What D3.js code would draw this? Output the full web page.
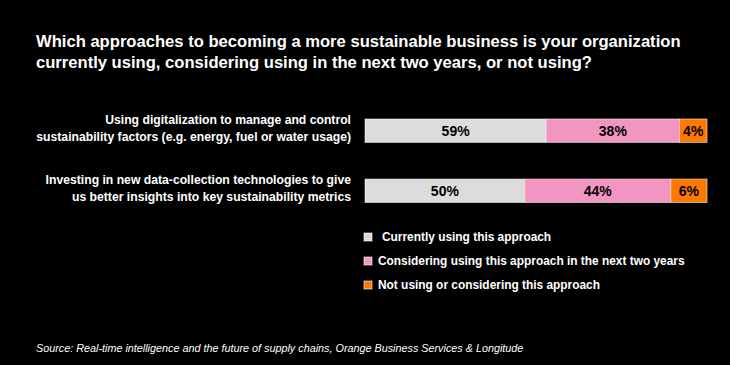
<!DOCTYPE html>
<html><head><meta charset="utf-8">
<script src="https://cdn.jsdelivr.net/npm/d3@7"></script>
<style>html,body{margin:0;padding:0;background:#000;}svg{display:block;}</style>
</head><body>
<script>
const titleLines = ["Which approaches to becoming a more sustainable business is your organization",
  "currently using, considering using in the next two years, or not using?"];
const categories = ["digital", "datacollection"];
const categoryLabels = [
  ["Using digitalization to manage and control", "sustainability factors (e.g. energy, fuel or water usage)"],
  ["Investing in new data-collection technologies to give", "us better insights into key sustainability metrics"]
];
const seriesNames = ["Currently using this approach", "Considering using this approach in the next two years", "Not using or considering this approach"];
const currentlyUsing = [59, 50];
const considering = [38, 44];
const notUsing = [4, 6];
const colors = ["#dcdcdc", "#f395c1", "#ff7900"];
const source = "Source: Real-time intelligence and the future of supply chains, Orange Business Services & Longitude";

const W = 730, H = 365;
const svg = d3.select("body").append("svg").attr("width", W).attr("height", H);
svg.append("rect").attr("width", W).attr("height", H).attr("fill", "#000");

const font = "'Liberation Sans', Arial, sans-serif";

svg.append("g").selectAll("text").data(titleLines).join("text")
  .attr("x", 36).attr("y", (d, i) => 47 + i * 21)
  .attr("fill", "#fff").attr("font-family", font).attr("font-weight", "bold")
  .attr("font-size", 16.6).text(d => d);

const rows = categories.map((c, i) => ({ cat: c, vals: [currentlyUsing[i], considering[i], notUsing[i]] }));

const y = d3.scaleBand().domain(categories).range([119, 202.5]).paddingInner(0.61).paddingOuter(0);
// the original graphic widens small segments; a power scale reproduces its segment widths
const seg = d3.scalePow().exponent(0.7).domain([0, 100]).range([0, 100]);
const x = d3.scaleLinear().domain([0, 1]).range([365, 707]);

rows.forEach((r, i) => {
  const w = r.vals.map(v => seg(v));
  const total = d3.sum(w);
  let acc = 0;
  const segs = r.vals.map((v, k) => { const s = { v, k, x0: acc / total, x1: (acc + w[k]) / total }; acc += w[k]; return s; });
  const g = svg.append("g");
  g.selectAll("rect").data(segs).join("rect")
    .attr("x", d => x(d.x0)).attr("width", d => x(d.x1) - x(d.x0))
    .attr("y", y(r.cat)).attr("height", y.bandwidth())
    .attr("fill", d => colors[d.k]).attr("stroke", "rgba(255,255,255,0.55)").attr("stroke-width", 1);
  g.selectAll("text").data(segs).join("text")
    .attr("x", d => (x(d.x0) + x(d.x1)) / 2).attr("y", y(r.cat) + y.bandwidth() / 2 + 5)
    .attr("text-anchor", "middle").attr("fill", "#000").attr("font-family", font)
    .attr("font-weight", "bold").attr("font-size", 14).text(d => d.v + "%");
  const cy = y(r.cat) + y.bandwidth() / 2;
  svg.append("g").selectAll("text").data(categoryLabels[i]).join("text")
    .attr("x", 351).attr("y", (d, j) => cy - 7 + j * 17)
    .attr("text-anchor", "end").attr("fill", "#fff").attr("font-family", font)
    .attr("font-weight", "bold").attr("font-size", 12.2).text(d => d);
});

const lg = svg.append("g");
seriesNames.forEach((s, k) => {
  const ly = 241 + k * 24;
  lg.append("rect").attr("x", 364).attr("y", ly - 8).attr("width", 8).attr("height", 8)
    .attr("fill", colors[k]).attr("stroke", "rgba(255,255,255,0.6)").attr("stroke-width", 1);
  lg.append("text").attr("x", k === 0 ? 382 : 378).attr("y", ly)
    .attr("fill", "#fff").attr("font-family", font).attr("font-weight", "bold")
    .attr("font-size", 11.9).text(s);
});

svg.append("text").attr("x", 36).attr("y", 352).attr("fill", "#fff")
  .attr("font-family", font).attr("font-style", "italic").attr("font-size", 10.8).text(source);
</script>
</body></html>
